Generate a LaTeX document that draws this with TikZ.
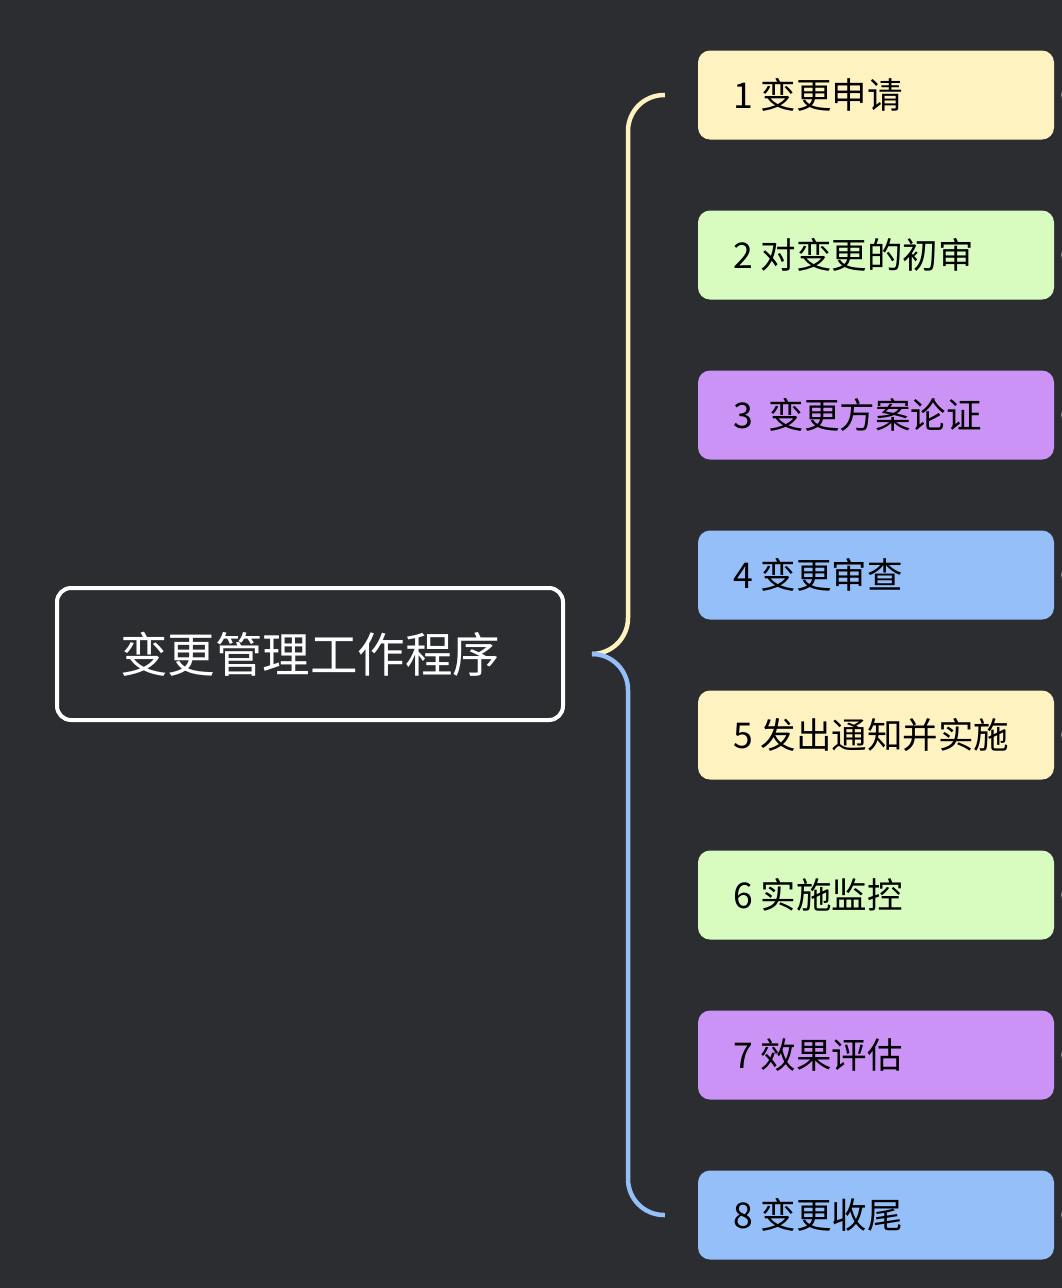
\documentclass[tikz,border=0pt]{standalone}
\usepackage{fontspec}
\newfontfamily\cjk{Noto Sans CJK SC}
\definecolor{bg}{HTML}{2C2D31}
\definecolor{cyel}{HTML}{FEF2C0}
\definecolor{cgrn}{HTML}{D8FBC0}
\definecolor{cpur}{HTML}{CB93F6}
\definecolor{cblu}{HTML}{94BFF9}
\definecolor{knob}{HTML}{9A9BA0}
\tikzset{
  itembox/.style={draw=none, rounded corners=12pt, minimum width=356pt, minimum height=89pt, inner sep=0pt},
  itemtext/.style={anchor=west, inner sep=0pt, text=black, font=\cjk\fontsize{35.5}{42}\selectfont},
  rootbox/.style={draw=white, line width=4pt, rounded corners=14pt, fill=bg, minimum width=506pt, minimum height=132pt, text=white, font=\cjk\fontsize{47.5}{56}\selectfont},
  brace/.style={line width=4.5pt, rounded corners=36pt},
}
\begin{document}
\begin{tikzpicture}[x=1pt,y=-1pt]
\useasboundingbox (0,0) rectangle (1062,1288);
\fill[bg] (0,0) rectangle (1062,1288);
\node[rootbox] (root) at (310,654) {变更管理工作程序};
\coordinate (bstart) at (592,654);
\foreach \i/\c/\t [count=\k] in {1/cyel/{1 变更申请},2/cgrn/{2 对变更的初审},3/cpur/{3\ \ 变更方案论证},4/cblu/{4 变更审查},5/cyel/{5 发出通知并实施},6/cgrn/{6 实施监控},7/cpur/{7 效果评估},8/cblu/{8 变更收尾}}{
  \node[itembox, fill=\c] (n\i) at (876,{95+160*(\i-1)}) {};
  \node[itemtext] (t\i) at ([xshift=35pt]n\i.west) {\t};
  \coordinate (e\i) at ([xshift=-33pt]n\i.west);
  \fill[knob] ([xshift=16pt]n\i.east) circle (9pt);
}
\draw[brace, cyel] (bstart) -| (628,400) |- (e1);
\draw[brace, cblu] (bstart) -| (628,900) |- (e8);
\end{tikzpicture}
\end{document}
